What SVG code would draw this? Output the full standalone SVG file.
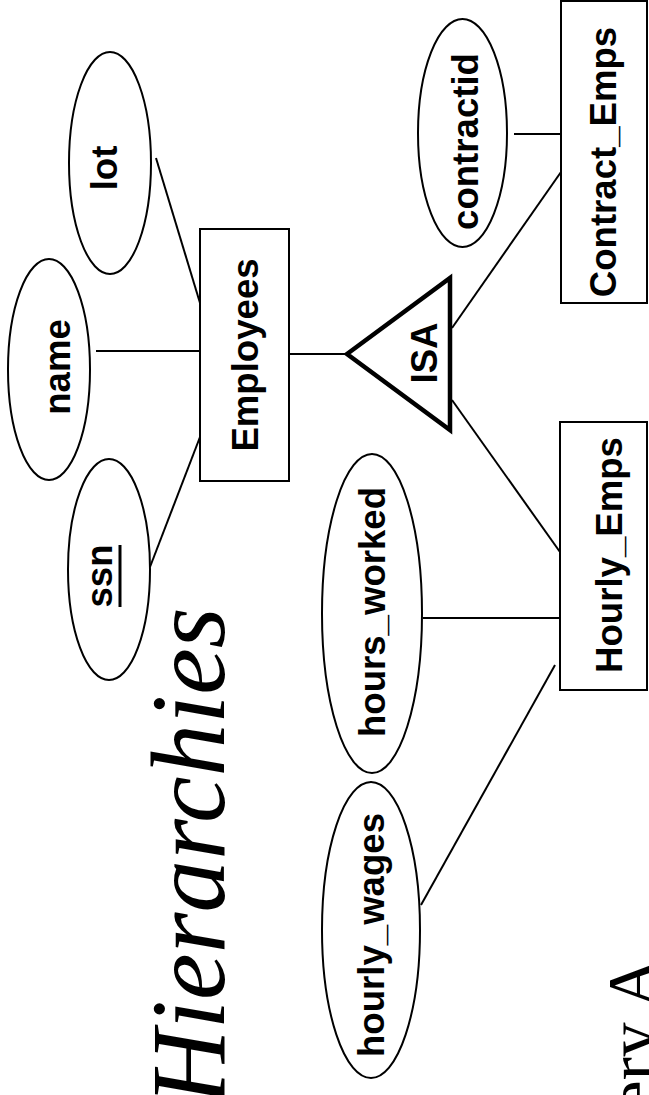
<svg xmlns="http://www.w3.org/2000/svg" width="649" height="1095" viewBox="0 0 649 1095">
<style>
.attr{fill:none;stroke:#000;stroke-width:2}
.ent{fill:none;stroke:#000;stroke-width:2}
.isa{fill:none;stroke:#000;stroke-width:4.5;stroke-linejoin:miter}
.lbl{font-family:"Liberation Sans",Arial,sans-serif;font-weight:bold;font-size:36.6px;fill:#000;text-anchor:middle}
.conn line{stroke:#000;stroke-width:2}
.title{font-family:"Liberation Serif","Times New Roman",serif;fill:#000}
</style>
<rect width="649" height="1095" fill="#fff"/>
<g id="title">
<text class="title" font-style="italic" font-size="105" transform="translate(224,1105) rotate(-90)">Hierarchies</text>
<text class="title" font-size="70" text-anchor="end" transform="translate(656,958) rotate(-90)">ery A</text>
</g>
<g id="connectors" class="conn">
<line x1="156" y1="158" x2="200" y2="303"/>
<line x1="96" y1="351" x2="200" y2="351"/>
<line x1="150" y1="567" x2="200" y2="437"/>
<line x1="289" y1="354" x2="347" y2="354"/>
<line x1="452" y1="328" x2="561" y2="172"/>
<line x1="514" y1="134" x2="561" y2="134"/>
<line x1="452" y1="400" x2="560" y2="552"/>
<line x1="423" y1="618" x2="560" y2="618"/>
<line x1="421" y1="905" x2="555" y2="665"/>
</g>
<g id="lot">
<ellipse class="attr" cx="110" cy="163" rx="41" ry="111"/>
<text class="lbl" transform="translate(117,168) rotate(-90)">lot</text>
</g>
<g id="name">
<ellipse class="attr" cx="49" cy="369.5" rx="41" ry="110.5"/>
<text class="lbl" transform="translate(70,367) rotate(-90)">name</text>
</g>
<g id="ssn">
<ellipse class="attr" cx="109" cy="569.5" rx="41" ry="110.5"/>
<text class="lbl" transform="translate(112,576) rotate(-90)">ssn</text>
<line x1="120" y1="545" x2="120" y2="607" stroke="#000" stroke-width="3"/>
</g>
<g id="employees">
<rect class="ent" x="200" y="229" width="89" height="252"/>
<text class="lbl" transform="translate(258,355) rotate(-90)">Employees</text>
</g>
<g id="isa">
<polygon class="isa" points="347,354 450,278 450,430"/>
<text class="lbl" transform="translate(437,353) rotate(-90)">ISA</text>
</g>
<g id="contractid">
<ellipse class="attr" cx="462.5" cy="133" rx="44.5" ry="114"/>
<text class="lbl" transform="translate(478,141.5) rotate(-90)">contractid</text>
</g>
<g id="contract_emps">
<rect class="ent" x="561" y="1" width="86" height="302"/>
<text class="lbl" transform="translate(616,162) rotate(-90)">Contract_Emps</text>
</g>
<g id="hours_worked">
<ellipse class="attr" cx="372" cy="613.5" rx="50" ry="159.5"/>
<text class="lbl" transform="translate(385,612) rotate(-90)">hours_worked</text>
</g>
<g id="hourly_wages">
<ellipse class="attr" cx="371" cy="930" rx="49" ry="148"/>
<text class="lbl" transform="translate(384,935) rotate(-90)">hourly_wages</text>
</g>
<g id="hourly_emps">
<rect class="ent" x="560" y="422" width="87" height="268"/>
<text class="lbl" transform="translate(622,555) rotate(-90)">Hourly_Emps</text>
</g>
</svg>
